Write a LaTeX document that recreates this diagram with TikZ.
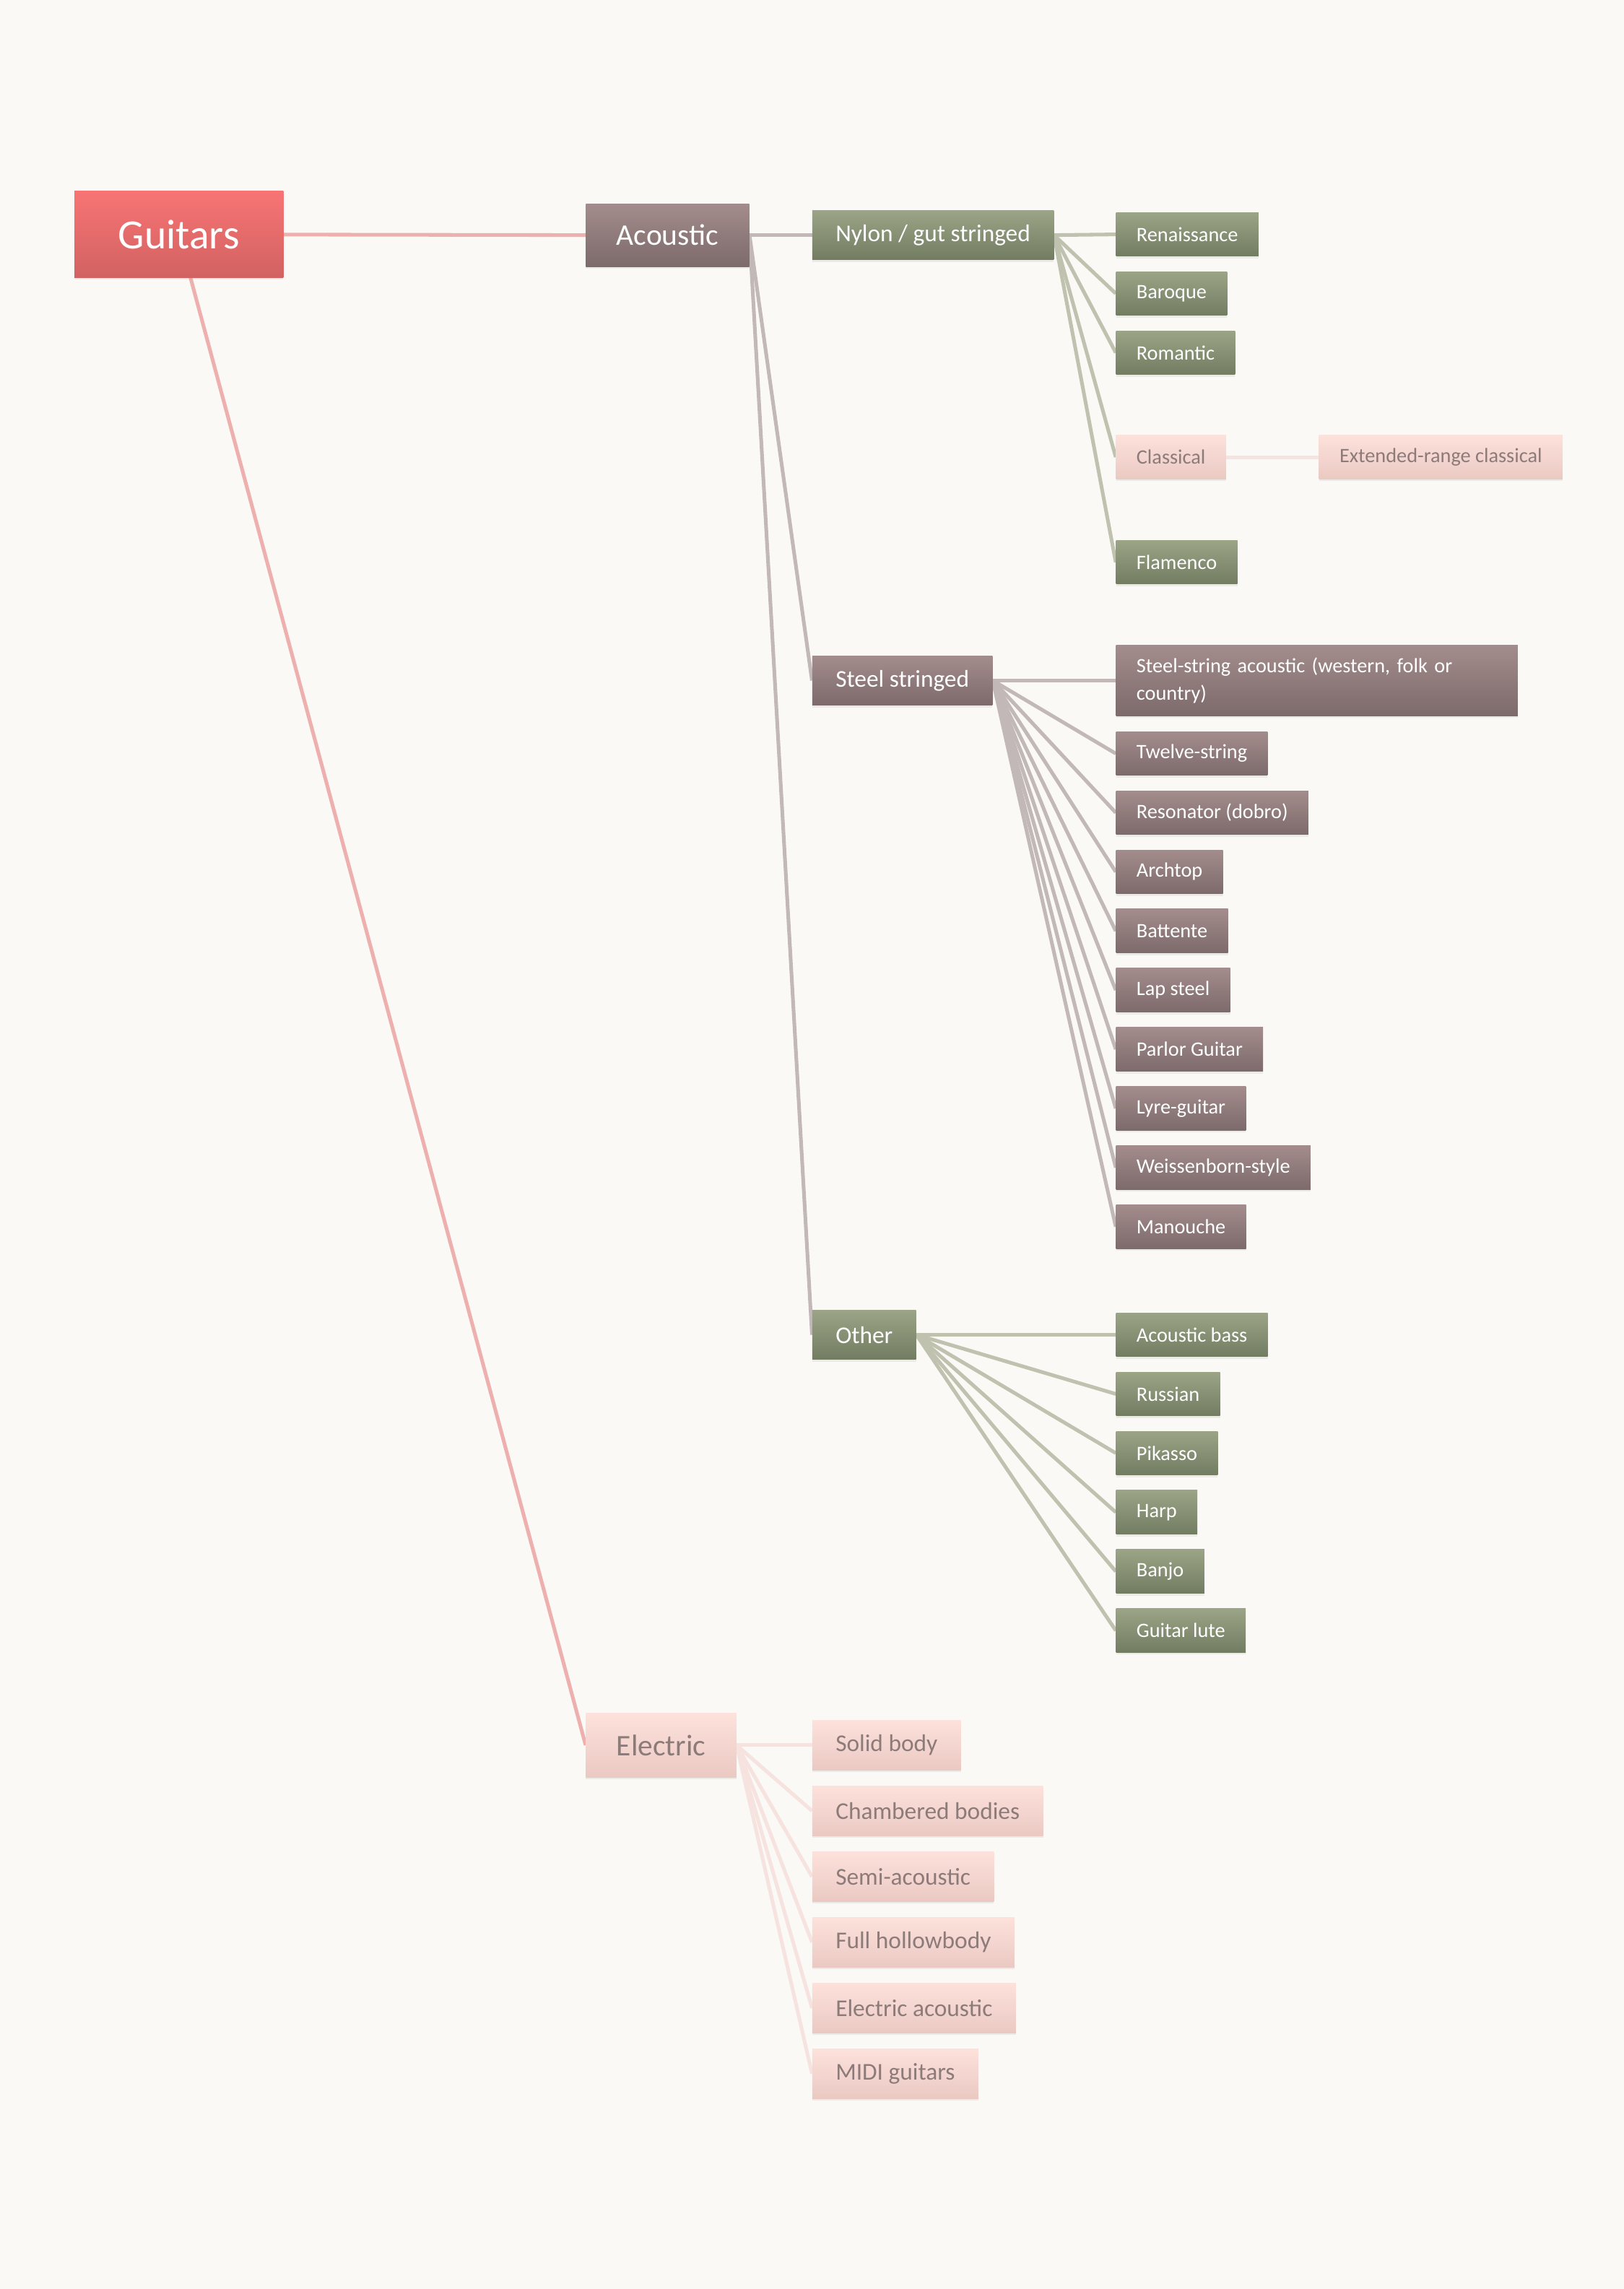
\documentclass[tikz,border=0pt]{standalone}
\usepackage{fontspec}
\setmainfont{Carlito}
\usetikzlibrary{shadows}
\usepackage{xcolor}

\definecolor{paper}{HTML}{FAF9F5}
\definecolor{roottop}{HTML}{F87474}
\definecolor{rootbot}{HTML}{D26262}
\definecolor{mauvetop}{HTML}{A38C8C}
\definecolor{mauvebot}{HTML}{7D6A6B}
\definecolor{sagetop}{HTML}{9BA486}
\definecolor{sagebot}{HTML}{727C61}
\definecolor{blushtop}{HTML}{FDE1DB}
\definecolor{blushbot}{HTML}{EBC9C3}
\definecolor{blushtext}{HTML}{8C7B79}
\definecolor{rootlink}{HTML}{EDB0AE}
\definecolor{mauvelink}{HTML}{C3B8B8}
\definecolor{sagelink}{HTML}{C0C2B0}
\definecolor{blushlink}{HTML}{F6E3DF}

\pgfdeclarelayer{bg}
\pgfdeclarelayer{edges}
\pgfsetlayers{bg,edges,main}

\begin{document}
\begin{tikzpicture}[x=1pt,y=-1pt,
    box/.style={rectangle, anchor=west, inner ysep=0pt,
      drop shadow={shadow xshift=0pt, shadow yshift=-1.5pt, opacity=0.12}},
    mauve/.style={box, top color=mauvetop, bottom color=mauvebot, text=white},
    sage/.style={box, top color=sagetop, bottom color=sagebot, text=white},
    blush/.style={box, top color=blushtop, bottom color=blushbot, text=blushtext},
    trunk/.style={font=\fontsize{20.5}{24}\selectfont, inner xsep=21pt, minimum height=43pt},
    branch/.style={font=\fontsize{16.5}{19}\selectfont, inner xsep=16pt, minimum height=34pt},
    leaf/.style={font=\fontsize{14}{19}\selectfont, inner xsep=14pt, minimum height=30pt},
    link/.style={line width=2.5pt}]

      % Page
      \useasboundingbox (0,0) rectangle (1112,1567.4);
      \begin{pgfonlayer}{bg}
        \fill[paper] (0,0) rectangle (1112,1567.4);
      \end{pgfonlayer}

      % Root
      \node[box, anchor=center, top color=roottop, bottom color=rootbot, text=white,
        minimum width=143pt, minimum height=59pt, font=\fontsize{28.5}{30}\selectfont]
        (guitars) at (122.5,160.5) {Guitars};
      \node[mauve, trunk] (acoustic) at (401,161) {Acoustic};
      \node[blush, trunk, minimum height=44pt] (electric) at (401,1195) {Electric};
      \begin{pgfonlayer}{edges}
        \draw[link, rootlink] (guitars) -- (acoustic.west);
        \draw[link, rootlink] (guitars) -- (electric.west);
      \end{pgfonlayer}

      % Acoustic
      \node[sage, branch] (nylon) at (556,161) {Nylon / gut stringed};
      \node[mauve, branch] (steel) at (556,466) {Steel stringed};
      \node[sage, branch] (other) at (556,914) {Other};
      \begin{pgfonlayer}{edges}
        \foreach \b in {nylon,steel,other}
          \draw[link, mauvelink] (acoustic.east) -- (\b.west);
      \end{pgfonlayer}

      % Nylon / gut stringed
      \foreach \id/\txt/\y in {ren/Renaissance/160.5, bar/Baroque/201, rom/Romantic/241.5, fla/Flamenco/385}
      {
        \node[sage, leaf] (\id) at (764,\y) {\txt};
        \begin{pgfonlayer}{edges}
          \draw[link, sagelink] (nylon.east) -- (\id.west);
        \end{pgfonlayer}
      }
      \node[blush, leaf] (classical) at (764,313) {Classical};
      \node[blush, leaf] (extended) at (903,313) {Extended-range classical};
      \begin{pgfonlayer}{edges}
        \draw[link, sagelink] (nylon.east) -- (classical.west);
        \draw[link, blushlink] (classical.east) -- (extended.west);
      \end{pgfonlayer}

      % Steel stringed
      \node[mauve, leaf, text width=247pt, align=left, minimum height=48pt] (western) at (764,466)
        {Steel-string acoustic (western, folk or\\country)};
      \begin{pgfonlayer}{edges}
        \draw[link, mauvelink] (steel.east) -- (western.west);
      \end{pgfonlayer}
      \foreach \id/\txt [count=\i from 0] in {twelve/Twelve-string, reso/Resonator (dobro),
        arch/Archtop, batt/Battente, lap/Lap steel, parlor/Parlor Guitar, lyre/Lyre-guitar,
        weiss/Weissenborn-style, manouche/Manouche}
      {
        \node[mauve, leaf] (\id) at (764,{516+40.5*\i}) {\txt};
        \begin{pgfonlayer}{edges}
          \draw[link, mauvelink] (steel.east) -- (\id.west);
        \end{pgfonlayer}
      }

      % Other
      \foreach \id/\txt [count=\i from 0] in {bass/Acoustic bass, russian/Russian, pikasso/Pikasso,
        harp/Harp, banjo/Banjo, lute/Guitar lute}
      {
        \node[sage, leaf] (\id) at (764,{914+40.5*\i}) {\txt};
        \begin{pgfonlayer}{edges}
          \draw[link, sagelink] (other.east) -- (\id.west);
        \end{pgfonlayer}
      }

      % Electric
      \foreach \id/\txt [count=\i from 0] in {solid/Solid body, chambered/Chambered bodies,
        semi/Semi-acoustic, hollow/Full hollowbody, elac/Electric acoustic, midi/MIDI guitars}
      {
        \node[blush, branch] (\id) at (556,{1195+45*\i}) {\txt};
        \begin{pgfonlayer}{edges}
          \draw[link, blushlink] (electric.east) -- (\id.west);
        \end{pgfonlayer}
      }

  \end{tikzpicture}
\end{document}
